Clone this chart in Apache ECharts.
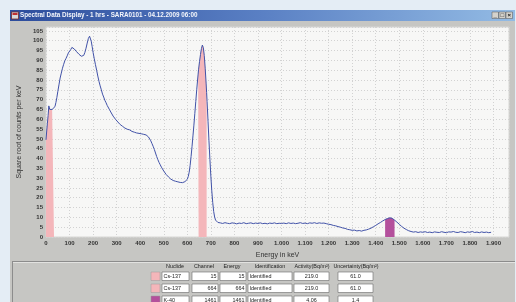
<!DOCTYPE html>
<html>
<head>
<meta charset="utf-8">
<script src="https://cdn.jsdelivr.net/npm/echarts@6/dist/echarts.min.js"></script>
<style>
  html, body { margin: 0; padding: 0; background: #dfe9f2; }
  #chart { width: 516px; height: 302px; }
</style>
</head>
<body>
<div id="chart"></div>
<script>
  // spectrum: energy in keV, square root of counts per keV
  const energy = [
    0, 3, 6, 9, 12, 14, 16, 19, 22, 26, 30, 34, 38, 42, 46, 50, 55, 60, 65, 70,
    75, 80, 85, 90, 95, 100, 105, 110, 113, 116, 120, 125, 130, 135, 140, 145, 150, 155, 160, 165,
    170, 175, 180, 185, 188, 192, 196, 200, 205, 210, 215, 220, 225, 230, 235, 240, 245, 250, 255, 260,
    265, 270, 275, 280, 285, 290, 295, 300, 305, 310, 315, 320, 325, 330, 335, 340, 345, 350, 355, 360,
    365, 370, 375, 380, 385, 390, 395, 400, 405, 410, 415, 420, 425, 430, 435, 440, 445, 450, 455, 460,
    465, 470, 475, 480, 485, 490, 495, 500, 505, 510, 515, 520, 525, 530, 535, 540, 545, 550, 555, 560,
    565, 570, 575, 580, 585, 590, 595, 600, 604, 608, 612, 616, 620, 624, 628, 632, 636, 640, 644, 646,
    648, 652, 656, 660, 664, 668, 672, 676, 680, 682, 684, 688, 692, 696, 700, 704, 708, 712, 716, 720,
    725, 730, 740, 750, 760, 770, 780, 790, 800, 810, 820, 830, 840, 850, 860, 870, 880, 890, 900, 910,
    920, 930, 940, 950, 960, 970, 980, 990, 1000, 1010, 1020, 1030, 1040, 1050, 1060, 1070, 1080, 1090, 1100, 1110,
    1120, 1130, 1140, 1150, 1160, 1170, 1180, 1190, 1200, 1210, 1220, 1230, 1240, 1250, 1260, 1270, 1280, 1290, 1300, 1310,
    1320, 1330, 1340, 1350, 1360, 1370, 1380, 1390, 1400, 1410, 1420, 1430, 1440, 1450, 1460, 1470, 1480, 1490, 1500, 1510,
    1520, 1530, 1540, 1550, 1560, 1570, 1580, 1590, 1600, 1610, 1620, 1630, 1640, 1650, 1660, 1670, 1680, 1690, 1700, 1710,
    1720, 1730, 1740, 1750, 1760, 1770, 1780, 1790, 1800, 1810, 1820, 1830, 1840, 1850, 1860, 1870, 1880, 1890
  ]
  const counts = [
    49.5, 54, 58, 62, 66.8, 67.2, 65, 64.5, 65.3, 65, 65.6, 65.2, 66.4, 68.5, 71, 74, 77.5, 81, 83.5, 86,
    88, 89.8, 91, 92.3, 93.8, 94.6, 95.5, 96.6, 96.9, 96.2, 95.8, 95, 94.4, 93.7, 93.1, 92.6, 92.1, 91.8, 92.5, 94,
    96.2, 98.8, 101.2, 102.3, 101.8, 99.8, 97, 94, 90.8, 87.8, 85, 82, 79.3, 77, 75, 72.8, 71.3, 69.6, 68.4, 67,
    66, 64.8, 63.7, 62.8, 61.6, 60.8, 60, 59.2, 58.6, 57.8, 57.3, 56.7, 56.4, 55.8, 55.5, 55.1, 54.9, 54.4, 54.6, 54.1,
    53.8, 53.9, 53.4, 53.5, 53.0, 53.2, 52.8, 53.0, 52.6, 52.7, 52.3, 52.5, 52.0, 51.6, 51.0, 50.2, 49.0, 47.6, 46.2, 44.6,
    42.8, 41.0, 39.4, 38.0, 36.8, 35.6, 34.6, 33.6, 32.6, 31.9, 31.2, 30.6, 30.1, 29.5, 29.3, 28.8, 28.9, 28.4, 28.6, 28.1,
    28.3, 27.8, 28.2, 27.7, 28.0, 28.2, 28.6, 29.4, 30.8, 33, 36.5, 41, 46, 51.5, 57, 63, 69, 75, 80.5, 83,
    85.5, 89.5, 93, 96, 97.8, 96.5, 92.5, 86, 78, 73.6, 69, 59, 49, 39.5, 31, 23.5, 17.5, 13, 10.2, 8.6,
    7.8, 7.4, 7.2, 6.9, 7.3, 7.0, 6.8, 7.2, 7.0, 6.7, 7.1, 6.9, 7.3, 6.8, 7.0, 7.2, 6.8, 7.1, 6.9, 7.2,
    6.8, 7.0, 6.7, 7.1, 6.9, 7.2, 6.8, 7.0, 6.9, 7.1, 6.8, 7.2, 6.9, 7.1, 6.8, 7.0, 7.3, 6.9, 7.1, 6.8,
    7.2, 7.0, 7.3, 6.9, 7.2, 7.0, 7.1, 6.8, 6.5, 6.3, 5.9, 5.7, 5.3, 5.0, 4.6, 4.4, 3.9, 3.7, 3.4, 3.5,
    3.1, 3.3, 3.0, 3.4, 3.6, 4.0, 4.5, 5.2, 5.9, 6.7, 7.4, 8.2, 8.9, 9.4, 9.8, 9.5, 8.6, 7.6, 6.5, 5.4,
    4.5, 3.8, 3.2, 2.8, 2.5, 2.7, 2.3, 2.6, 2.4, 2.7, 2.3, 2.5, 2.2, 2.6, 2.4, 2.3, 2.7, 2.4, 2.2, 2.6,
    2.5, 2.8, 2.4, 2.3, 2.7, 2.5, 2.2, 2.6, 2.4, 2.8, 2.3, 2.5, 2.2, 2.6, 2.3, 2.5, 2.2, 2.4
  ]

  // identified nuclides (table + shaded regions of interest)
  const nuclides = ['Cs-137', 'Cs-137', 'K-40']
  const channels = [15, 664, 1461]
  const energies = [15, 664, 1461]
  const identification = ['Identified', 'Identified', 'Identified']
  const activity = ['219.0', '219.0', '4.06']
  const uncertainty = ['61.0', '61.0', '1.4']
  const roiLow = [0, 646, 1440]
  const roiHigh = [34, 682, 1480]

  const yTicks = { min: 0, max: 107, interval: 5 }
  const xTicks = { min: 0, max: 1966, interval: 100 }

  const roiColors = ['#f4b6ba', '#f4b6ba', '#b4509c']
  const font = '"Liberation Sans", Arial, sans-serif'

  const chart = echarts.init(document.getElementById('chart'), null, { renderer: 'canvas' })

  const points = energy.map((e, i) => [e, counts[i]])

  const roiSeries = roiLow.map((lo, i) => ({
    type: 'line',
    data: points.filter(p => p[0] >= lo && p[0] <= roiHigh[i]),
    showSymbol: false,
    silent: true,
    lineStyle: { width: 0 },
    areaStyle: { color: roiColors[i], opacity: 1 },
    z: 2
  }))

  function thousands(v) {
    return String(v).replace(/\B(?=(\d{3})+(?!\d))/g, '.')
  }

  // window chrome + nuclide table
  const g = []
  g.push({ type: 'rect', shape: { x: 0, y: 0, width: 516, height: 302 }, style: { fill: '#e4edf5' }, z: -10 })
  g.push({ type: 'rect', shape: { x: 10, y: 10, width: 505, height: 292 }, style: { fill: '#c6c6c3' }, z: -9 })
  g.push({
    type: 'rect', shape: { x: 10, y: 10, width: 505, height: 11 }, z: -8,
    style: {
      fill: new echarts.graphic.LinearGradient(0, 0, 1, 0, [
        { offset: 0, color: '#2c4c9c' },
        { offset: 0.5, color: '#5a80c4' },
        { offset: 1, color: '#93bbe4' }
      ])
    }
  })
  g.push({ type: 'rect', shape: { x: 11.5, y: 12, width: 7, height: 7 }, style: { fill: '#d8d8d8', stroke: '#7a2a2a', lineWidth: 0.8 }, z: -7 })
  g.push({ type: 'rect', shape: { x: 12.5, y: 13, width: 5, height: 2 }, style: { fill: '#c03030' }, z: -6 })
  g.push({
    type: 'text', x: 20, y: 15.5, z: -6,
    style: { text: 'Spectral Data Display - 1 hrs - SARA0101 - 04.12.2009 06:00', fill: '#f4f6fb', fontSize: 6.3, fontWeight: 'bold', fontFamily: font, verticalAlign: 'middle' }
  })
  ;[492, 499, 506].forEach((bx, i) => {
    g.push({ type: 'rect', shape: { x: bx, y: 12, width: 6.5, height: 6.5 }, style: { fill: '#d4d2cc', stroke: '#555', lineWidth: 0.5 }, z: -6 })
    const sym = ['_', '□', '×'][i]
    g.push({ type: 'text', x: bx + 3.25, y: 15.3, z: -5, style: { text: sym, fill: '#111', fontSize: 6, fontWeight: 'bold', align: 'center', verticalAlign: 'middle', fontFamily: font } })
  })
  // bottom panel frame
  g.push({ type: 'line', shape: { x1: 12, y1: 261.5, x2: 515, y2: 261.5 }, style: { stroke: '#8c8c8c', lineWidth: 1 }, z: -7 })
  g.push({ type: 'line', shape: { x1: 12, y1: 262.5, x2: 515, y2: 262.5 }, style: { stroke: '#e2e2e0', lineWidth: 1 }, z: -7 })
  g.push({ type: 'line', shape: { x1: 12.5, y1: 262, x2: 12.5, y2: 302 }, style: { stroke: '#8c8c8c', lineWidth: 1 }, z: -7 })

  const headers = ['Nuclide', 'Channel', 'Energy', 'Identification', 'Activity(Bq/m²)', 'Uncertainty(Bq/m²)']
  const headX = [175, 204, 232, 270, 312, 356]
  headers.forEach((h, i) => {
    g.push({ type: 'text', x: headX[i], y: 266.5, z: -5, style: { text: h, fill: '#222', fontSize: 5.4, fontFamily: font, align: 'center', verticalAlign: 'middle' } })
  })
  const cols = [
    { x: 162, w: 27, align: 'left' },
    { x: 192, w: 26, align: 'right' },
    { x: 220, w: 26, align: 'right' },
    { x: 248, w: 44, align: 'left' },
    { x: 294, w: 35, align: 'center' },
    { x: 338, w: 35, align: 'center' }
  ]
  nuclides.forEach((n, r) => {
    const y = 272 + r * 12
    g.push({ type: 'rect', shape: { x: 151, y: y, width: 9, height: 8.5 }, style: { fill: roiColors[r], stroke: '#9a9a9a', lineWidth: 0.5 }, z: -6 })
    const vals = [n, channels[r], energies[r], identification[r], activity[r], uncertainty[r]]
    cols.forEach((c, k) => {
      g.push({ type: 'rect', shape: { x: c.x, y: y, width: c.w, height: 8.5 }, style: { fill: '#ffffff', stroke: '#6a6a6a', lineWidth: 0.6 }, z: -6 })
      const tx = c.align === 'left' ? c.x + 1.5 : c.align === 'right' ? c.x + c.w - 1.5 : c.x + c.w / 2
      g.push({ type: 'text', x: tx, y: y + 4.5, z: -5, style: { text: String(vals[k]), fill: '#222', fontSize: 5.4, fontFamily: font, align: c.align, verticalAlign: 'middle' } })
    })
  })

  const option = {
    backgroundColor: 'transparent',
    animation: false,
    graphic: g,
    grid: {
      left: 46, right: 7, top: 27, bottom: 65,
      show: true,
      backgroundColor: '#f7f7f6',
      borderColor: '#d6d6d4',
      borderWidth: 1
    },
    xAxis: {
      type: 'value',
      min: xTicks.min,
      max: xTicks.max,
      interval: xTicks.interval,
      name: 'Energy in keV',
      nameLocation: 'middle',
      nameGap: 15,
      nameTextStyle: { fontSize: 7, color: '#333', fontFamily: font },
      axisLine: { show: false },
      axisTick: { show: false },
      axisLabel: {
        fontSize: 6, color: '#333', fontFamily: font, fontWeight: 'bold', margin: 3,
        showMaxLabel: false,
        formatter: v => thousands(v)
      },
      splitLine: { lineStyle: { color: '#d2d2d2', type: [1, 2], width: 1 } }
    },
    yAxis: {
      type: 'value',
      min: yTicks.min,
      max: yTicks.max,
      interval: yTicks.interval,
      name: 'Square root of counts per keV',
      nameLocation: 'middle',
      nameGap: 16,
      nameTextStyle: { fontSize: 7, color: '#333', fontFamily: font },
      axisLine: { show: false },
      axisTick: { show: false },
      axisLabel: { fontSize: 6, color: '#333', fontFamily: font, fontWeight: 'bold', margin: 3, showMaxLabel: false },
      splitLine: { lineStyle: { color: '#d2d2d2', type: [1, 2], width: 1 } }
    },
    series: [
      ...roiSeries,
      {
        type: 'line',
        data: points,
        showSymbol: false,
        silent: true,
        lineStyle: { color: '#4152a8', width: 1 },
        z: 3
      }
    ]
  }

  chart.setOption(option)
</script>
</body>
</html>
